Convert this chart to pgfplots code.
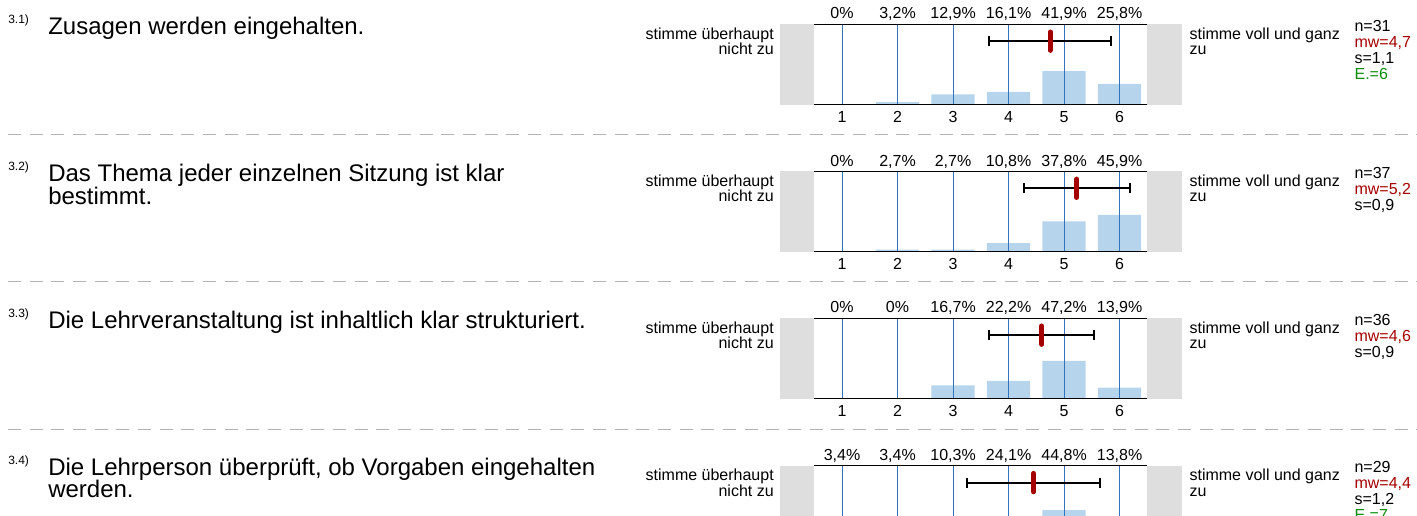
\documentclass[border=0pt]{standalone}
\usepackage{pgfplots}
\usepackage{pgfplotstable}
\pgfplotsset{compat=1.18}
\usepackage{fontspec}
\setmainfont{Liberation Sans}
\definecolor{gridblue}{RGB}{50,115,190}
\definecolor{barblue}{RGB}{182,213,236}
\definecolor{boxgray}{RGB}{222,222,222}
\definecolor{meanred}{RGB}{165,0,0}
\definecolor{egreen}{RGB}{10,140,10}
\definecolor{sepgray}{RGB}{178,178,178}

\pgfplotstableread{
x p
1 0
2 3.2
3 12.9
4 16.1
5 41.9
6 25.8
}\dataA
\pgfplotstableread{
x p
1 0
2 2.7
3 2.7
4 10.8
5 37.8
6 45.9
}\dataB
\pgfplotstableread{
x p
1 0
2 0
3 16.7
4 22.2
5 47.2
6 13.9
}\dataC
\pgfplotstableread{
x p
1 3.4
2 3.4
3 10.3
4 24.1
5 44.8
6 13.8
}\dataD

\pgfplotsset{
  likert/.style={
    width=249.75pt, height=60.3pt, scale only axis,
    xmin=0.5, xmax=6.5, ymin=0, ymax=100,
    clip=false, set layers,
    axis line style={draw=none},
    xtick={1,...,6}, ytick=\empty,
    major tick length=0pt,
    xmajorgrids, grid style={gridblue, line width=0.8pt},
    xticklabel style={font=\fontsize{12}{14}\selectfont, anchor=base, yshift=-13pt, inner sep=0pt},
    /pgf/number format/assume math mode=true,
  },
}
\newcommand\likertplot[4]{%
  \begin{axis}[likert, at={(610.725pt,#2)}, anchor=south west]
    \fill[boxgray] ([xshift=-25.5pt]rel axis cs:0,0) rectangle (rel axis cs:0,1);
    \fill[boxgray] (rel axis cs:1,0) rectangle ([xshift=25.8pt]rel axis cs:1,1);
    \addplot[ybar, bar width=0.78, fill=barblue, draw=none, on layer=axis background] table[x=x,y=p]{#1};
    \addplot[draw=none, mark=none, point meta=explicit,
      nodes near coords={\pgfmathprintnumber[fixed,precision=1,use comma]{\pgfplotspointmeta}\%},
      every node near coord/.append style={font=\fontsize{12}{14}\selectfont, anchor=base, yshift=4pt, inner sep=0pt}]
      table[x=x, y expr=100, meta=p]{#1};
    \addplot[black, mark=none, error bars/.cd, x dir=both, x explicit,
      error mark=|,
      error bar style={line width=1.5pt, black},
      error mark options={black, line width=1.5pt, mark size=3.75pt}]
      coordinates {(#3,79) +- (#4,0)};
    \addplot[only marks, mark=|, mark size=6.9pt, mark options={line width=3.75pt, line cap=round, draw=meanred}] coordinates {(#3,79)};
    \draw[line width=1pt] (rel axis cs:0,0) -- (rel axis cs:1,0);
    \draw[line width=1pt] (rel axis cs:0,1) -- (rel axis cs:1,1);
  \end{axis}
}
% #1 T (px from top), #2 number, #3 n, #4 mw, #5 s
\newcommand\rowlabels[5]{%
  \pgfmathsetmacro\Y{515-#1}
  \node[anchor=base west, inner sep=0pt, font=\fontsize{9}{10}\selectfont] at (8,\Y+1) {#2};
  \node[anchor=base east, inner sep=0pt, font=\fontsize{12}{14}\selectfont] at (774,\Y-15) {stimme überhaupt};
  \node[anchor=base east, inner sep=0pt, font=\fontsize{12}{14}\selectfont] at (774,\Y-30.6) {nicht zu};
  \node[anchor=base west, inner sep=0pt, font=\fontsize{12}{14}\selectfont] at (1189.3,\Y-15) {stimme voll und ganz};
  \node[anchor=base west, inner sep=0pt, font=\fontsize{12}{14}\selectfont] at (1189.3,\Y-30.6) {zu};
  \node[anchor=base west, inner sep=0pt, font=\fontsize{12}{14}\selectfont] at (1354.3,\Y-7) {n=#3};
  \node[anchor=base west, inner sep=0pt, font=\fontsize{12}{14}\selectfont, text=meanred] at (1354.3,\Y-23) {mw=#4};
  \node[anchor=base west, inner sep=0pt, font=\fontsize{12}{14}\selectfont] at (1354.3,\Y-39) {s=#5};
}

\begin{document}
\begin{tikzpicture}[x=0.75pt, y=0.75pt]

\likertplot{\dataA}{307.725pt}{4.75}{1.1}
\likertplot{\dataB}{197.4pt}{5.23}{0.95}
\likertplot{\dataC}{87.225pt}{4.6}{0.945}
\likertplot{\dataD}{-23.325pt}{4.45}{1.19}

\rowlabels{24.3}{3.1)}{31}{4,7}{1,1}
\rowlabels{171.4}{3.2)}{37}{5,2}{0,9}
\rowlabels{318.3}{3.3)}{36}{4,6}{0,9}
\rowlabels{465.7}{3.4)}{29}{4,4}{1,2}

\node[anchor=base west, inner sep=0pt, font=\fontsize{12}{14}\selectfont, text=egreen] at (1354.3,515-24.3-55) {E.=6};
\node[anchor=base west, inner sep=0pt, font=\fontsize{12}{14}\selectfont, text=egreen] at (1354.3,515-465.7-55) {E.=7};

\begin{scope}[font=\fontsize{18}{21}\selectfont]
\node[anchor=base west, inner sep=0pt] at (48,515-24.3-10.6) {Zusagen werden eingehalten.};
\node[anchor=base west, inner sep=0pt] at (48,515-171.4-10.6) {Das Thema jeder einzelnen Sitzung ist klar};
\node[anchor=base west, inner sep=0pt] at (48,515-171.4-33.3) {bestimmt.};
\node[anchor=base west, inner sep=0pt] at (48,515-318.3-10.6) {Die Lehrveranstaltung ist inhaltlich klar strukturiert.};
\node[anchor=base west, inner sep=0pt] at (48,515-465.7-9.5) {Die Lehrperson überprüft, ob Vorgaben eingehalten};
\node[anchor=base west, inner sep=0pt] at (48,515-465.7-32.2) {werden.};
\end{scope}

\foreach \yy in {134.3,281.7,429.3}{
  \draw[sepgray, line width=1pt, dash pattern=on 9.75pt off 6.5pt] (8,515-\yy) -- (1417,515-\yy);
}

\pgfresetboundingbox
\path[use as bounding box] (0,0) rectangle (1417,515);
\end{tikzpicture}
\end{document}
